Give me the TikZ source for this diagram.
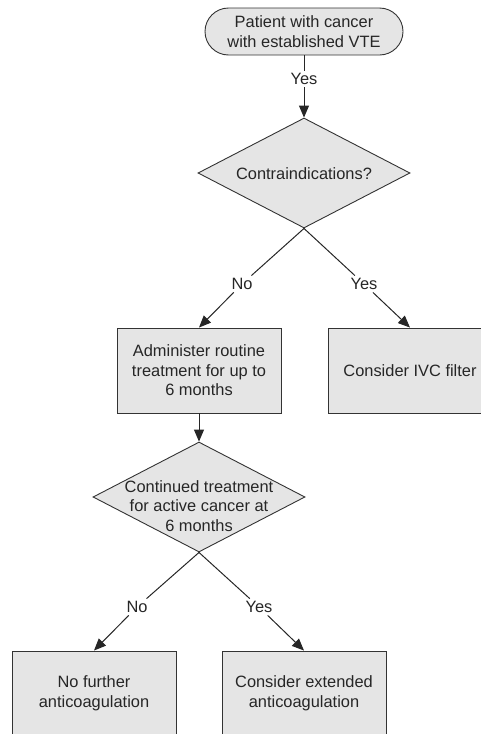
\documentclass[tikz,border=0pt]{standalone}
\usepackage{fontspec}
\setmainfont{Liberation Sans}
\usetikzlibrary{shapes,arrows.meta,positioning}

\begin{document}
\begin{tikzpicture}[x=1pt, y=-1pt,
  font=\fontsize{16.4}{19.5}\selectfont,
  every node/.style={text=black!85},
  box/.style={draw=black!80, fill=black!10, line width=0.9pt, minimum width=164pt, minimum height=85pt, align=center, inner sep=0pt},
  decision/.style={draw=black!80, fill=black!10, line width=0.9pt, diamond, minimum width=212pt, minimum height=110pt, inner sep=0pt},
  lbl/.style={inner sep=2.5pt},
  line/.style={draw=black!85, line width=1pt},
  arrow/.style={line, -{Triangle[length=12pt,width=10pt]}}]
\useasboundingbox (0,0) rectangle (481,734);

% start
\node[draw=black!80, fill=black!10, line width=0.9pt, rounded corners=23.5pt, minimum width=198pt, minimum height=47pt, align=center, inner sep=0pt] (start) at (304,31.5) {Patient with cancer\\with established VTE};
\node[lbl] (yes0) at (304,79) {Yes};

% first decision
\node[decision] (contra) at (304,173) {};
\node (contratext) at (304,174) {Contraindications?};
\node[lbl] (no1) at (242,284) {No};
\node[lbl] (yes1) at (364,284) {Yes};

% outcomes
\node[box] (routine) at (199,370.5) {Administer routine\\treatment for up to\\6 months};
\node[box] (ivc) at (410,370.5) {Consider IVC filter};

% second decision
\node[decision] (cont) at (199,497) {};
\node[align=center] (conttext) at (199,506) {Continued treatment\\for active cancer at\\6 months};
\node[lbl] (no2) at (137,607) {No};
\node[lbl] (yes2) at (259,607) {Yes};

% final outcomes
\node[box] (nofurther) at (94,693.5) {No further\\anticoagulation};
\node[box] (extended) at (304,693.5) {Consider extended\\anticoagulation};

% connectors
\draw[line] (start) -- (yes0);
\draw[arrow] (yes0) -- (contra.north);
\draw[line] (contra.south) -- (no1);
\draw[arrow] (no1) -- (routine.north);
\draw[line] (contra.south) -- (yes1);
\draw[arrow] (yes1) -- (ivc.north);
\draw[arrow] (routine) -- (cont.north);
\draw[line] (cont.south) -- (no2);
\draw[arrow] (no2) -- (nofurther.north);
\draw[line] (cont.south) -- (yes2);
\draw[arrow] (yes2) -- (extended.north);
\end{tikzpicture}
\end{document}
